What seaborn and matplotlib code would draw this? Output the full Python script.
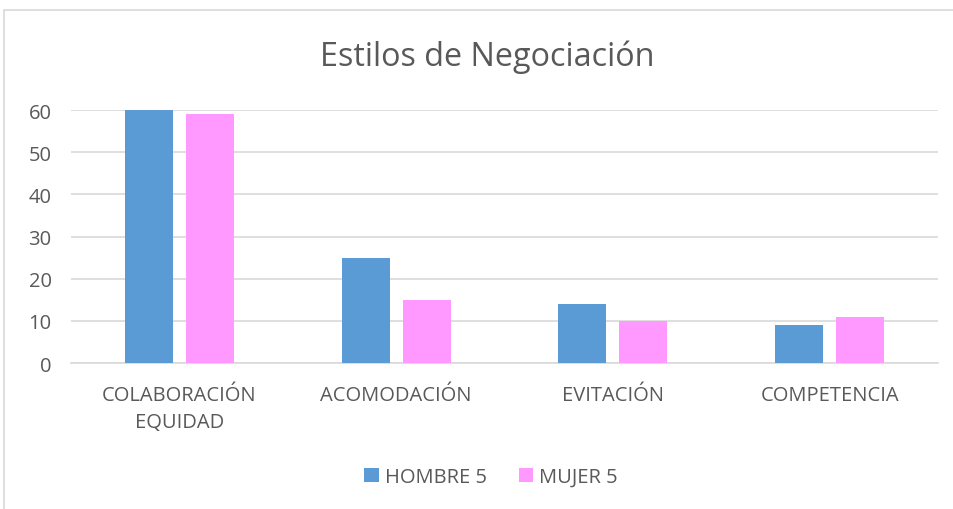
import matplotlib
matplotlib.use("Agg")
import matplotlib.pyplot as plt
import seaborn as sns
import pandas as pd
from matplotlib.patches import Rectangle

# data
categorias = ["COLABORACIÓN\nEQUIDAD", "ACOMODACIÓN", "EVITACIÓN", "COMPETENCIA"]
hombre = [60, 25, 14, 9]
mujer = [59, 15, 10, 11]
series = ["HOMBRE 5", "MUJER 5"]
colores = ["#5B9BD5", "#FF99FF"]

df = pd.DataFrame({
    "categoria": categorias * 2,
    "serie": [series[0]] * 4 + [series[1]] * 4,
    "valor": hombre + mujer,
})

sns.set_theme(style="white")
plt.rcParams["font.family"] = ["Open Sans", "DejaVu Sans"]
txt = "#595959"

fig = plt.figure(figsize=(9.54, 5.1), dpi=100)
ax = fig.add_axes([71 / 954, 1 - 364 / 510, (938 - 71) / 954, (364 - 111) / 510])

sns.barplot(data=df, x="categoria", y="valor", hue="serie", order=categorias,
            hue_order=series, palette=colores, width=0.564, gap=0.216,
            saturation=1, ax=ax, zorder=3, linewidth=0)

ax.set_ylim(0, 60)
ax.set_xlim(-0.5, 3.5)
ax.set_yticks(range(0, 61, 10))
ax.yaxis.grid(True, color="#D9D9D9", linewidth=1.2, zorder=0)
ax.set_axisbelow(True)
for s in ["top", "right", "left"]:
    ax.spines[s].set_visible(False)
ax.spines["bottom"].set_color("#D9D9D9")
ax.spines["bottom"].set_linewidth(1.2)
ax.tick_params(axis="both", length=0, labelsize=14.5, colors=txt)
ax.tick_params(axis="x", pad=16)
ax.tick_params(axis="y", pad=14)
for lab in ax.get_xticklabels():
    lab.set_linespacing(1.45)
ax.set_xlabel("")
ax.set_ylabel("")

fig.text(487 / 954, 1 - 57 / 510, "Estilos de Negociación", ha="center", va="center",
         fontsize=23.3, color=txt)

ax.legend(loc="center", bbox_to_anchor=((491 - 71) / (938 - 71), (364 - 478) / (364 - 111)),
          ncol=2, frameon=False, fontsize=14.5, labelcolor=txt,
          handlelength=0.7, handleheight=0.7, handletextpad=0.3, columnspacing=1.6)

# light chart border like the original export
fig.patches.append(Rectangle((4 / 954, -0.1), 1.2, (510 - 11) / 510 + 0.1,
                             transform=fig.transFigure, fill=False,
                             edgecolor="#D9D9D9", linewidth=1.2))

fig.savefig("out.png", dpi=100)
